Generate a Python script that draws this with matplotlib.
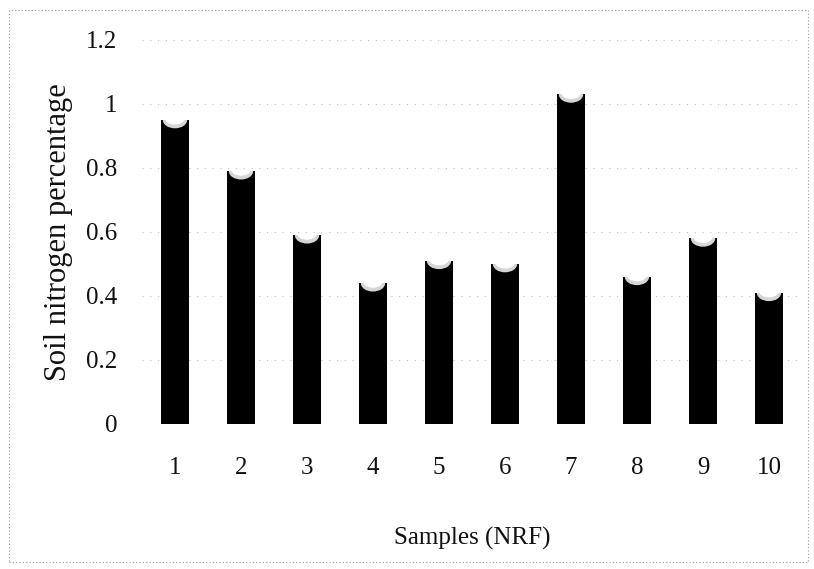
import matplotlib
matplotlib.use("Agg")
import matplotlib.pyplot as plt
from matplotlib.patches import Ellipse, Rectangle

samples = ["1", "2", "3", "4", "5", "6", "7", "8", "9", "10"]
nitrogen_pct = [0.95, 0.79, 0.59, 0.44, 0.51, 0.50, 1.03, 0.46, 0.58, 0.41]
y_ticks = [0, 0.2, 0.4, 0.6, 0.8, 1.0, 1.2]
y_tick_labels = ["0", "0.2", "0.4", "0.6", "0.8", "1", "1.2"]

plt.rcParams["font.family"] = ["Liberation Serif", "DejaVu Serif"]

W, H = 814, 569
fig = plt.figure(figsize=(W / 100, H / 100), dpi=100)
ax = fig.add_axes([142 / W, 1 - 424 / H, 660 / W, 384 / H])

x = list(range(len(samples)))
bar_w = 0.41
bars = ax.bar(x, nitrogen_pct, width=bar_w, color="black", zorder=3)

# cylinder-style cap on each bar: light half-ellipse clipped to the bar
for rect, v in zip(bars, nitrogen_pct):
    cx = rect.get_x() + rect.get_width() / 2
    outer = Ellipse((cx, v), width=bar_w * 0.9, height=0.052,
                    facecolor="#d6d6d6", edgecolor="none", zorder=4)
    inner = Ellipse((cx, v + 0.003), width=bar_w * 0.7, height=0.034,
                    facecolor="white", edgecolor="none", zorder=5)
    for e in (outer, inner):
        ax.add_patch(e)
        e.set_clip_path(rect)

ax.set_xlim(-0.5, len(samples) - 0.5)
ax.set_ylim(0, 1.2)
ax.set_yticks(y_ticks)
ax.set_yticklabels(y_tick_labels)
ax.set_xticks(x)
ax.set_xticklabels(samples)
ax.tick_params(axis="both", length=0, labelsize=18, colors="#111111")
ax.tick_params(axis="y", pad=18)
ax.tick_params(axis="x", pad=24)

for t in y_ticks[1:]:
    ax.axhline(t, color="#c0c0c0", lw=0.8, linestyle=(0, (1, 6)), zorder=1)

for s in ax.spines.values():
    s.set_visible(False)

ax.set_xlabel("Samples (NRF)", fontsize=18, labelpad=34, color="#111111")
ax.set_ylabel("Soil nitrogen percentage", fontsize=22, labelpad=9, color="#111111")

# dotted outer frame of the chart area
frame = Rectangle((9 / W, 1 - 562 / H), (808 - 9) / W, (562 - 10) / H,
                  transform=fig.transFigure, fill=False, edgecolor="#9a9a9a",
                  lw=0.8, linestyle=(0, (1, 2)))
fig.patches.append(frame)

fig.savefig("out.png", dpi=100)
